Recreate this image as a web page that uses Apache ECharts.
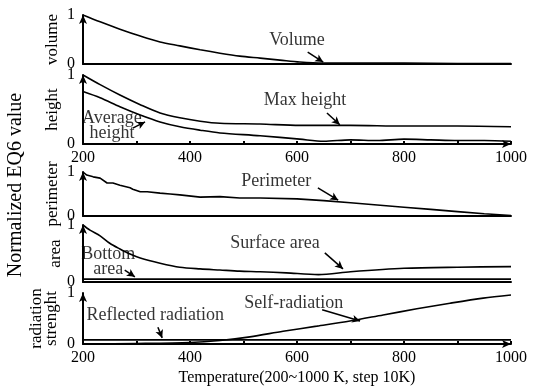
<!DOCTYPE html>
<html>
<head>
<meta charset="utf-8">
<script src="https://cdn.jsdelivr.net/npm/echarts@6/dist/echarts.min.js"></script>
<style>
html,body{margin:0;padding:0;background:#fff;}
#chart{width:533px;height:389px;}
</style>
</head>
<body>
<div id="chart"></div>
<script>
// values, [temperature K, normalized value]
var volume = [[200,1],[232,0.86],[269,0.71],[307,0.57],[344,0.45],[381,0.37],[419,0.29],[456,0.22],[493,0.16],[531,0.12],[568,0.08],[605,0.04],[650,0.02],[700,0.02],[800,0.02],[900,0.01],[1000,0.01]];
var maxHeight = [[200,1],[232,0.86],[269,0.71],[307,0.57],[344,0.45],[381,0.38],[419,0.33],[456,0.30],[531,0.29],[605,0.27],[700,0.27],[800,0.26],[900,0.26],[1000,0.25]];
var avgHeight = [[200,0.76],[232,0.67],[269,0.54],[307,0.42],[344,0.32],[381,0.25],[419,0.2],[456,0.16],[531,0.12],[605,0.07],[650,0.04],[700,0.06],[750,0.05],[800,0.07],[850,0.06],[900,0.05],[950,0.05],[1000,0.04]];
var perimeter = [[200,1],[207,0.93],[219,0.89],[232,0.86],[245,0.75],[256,0.75],[269,0.70],[288,0.64],[293,0.61],[307,0.55],[320,0.55],[344,0.52],[363,0.50],[381,0.48],[419,0.43],[456,0.44],[493,0.41],[531,0.41],[600,0.39],[650,0.35],[700,0.30],[750,0.25],[800,0.2],[850,0.15],[900,0.1],[950,0.05],[1000,0.01]];
var surfaceArea = [[200,1],[213,0.91],[232,0.81],[250,0.68],[269,0.58],[288,0.49],[307,0.42],[344,0.33],[381,0.26],[419,0.23],[456,0.21],[493,0.19],[531,0.18],[580,0.16],[640,0.13],[700,0.18],[800,0.24],[900,0.26],[1000,0.27]];
var bottomArea = [[200,0.05],[1000,0.05]];
var selfRadiation = [[200,0],[300,0.01],[400,0.03],[456,0.07],[512,0.14],[574,0.25],[637,0.35],[699,0.45],[761,0.57],[824,0.69],[886,0.8],[948,0.9],[1000,0.96]];
var reflectedRadiation = [[200,0.08],[1000,0.08]];

var axisNames = ['volume','height','perimeter','area','radiation\nstrenght'];
var xTicks = [200,400,600,800,1000];

// label text, label anchor and arrow (from -> to), in data units of each panel
var notes = [
  {panel:0, text:'Volume', at:[600,0.48], from:[620,0.24], to:[649,0.04]},
  {panel:1, text:'Max height', at:[615,0.64], from:[656,0.45], to:[680,0.28]},
  {panel:1, text:'Average\nheight', at:[254,0.26], from:[293,0.23], to:[316,0.32]},
  {panel:2, text:'Perimeter', at:[561,0.8], from:[639,0.64], to:[677,0.36]},
  {panel:3, text:'Surface area', at:[559,0.68], from:[652,0.51], to:[686,0.23]},
  {panel:3, text:'Bottom\narea', at:[247,0.35], from:[278,0.21], to:[297,0.09]},
  {panel:4, text:'Self-radiation', at:[594,0.8], from:[647,0.67], to:[718,0.45]},
  {panel:4, text:'Reflected radiation', at:[335,0.57], from:[340,0.33], to:[348,0.12]}
];

var font = 'Liberation Serif';
var panels = [
  {top:15, height:49, gap:23},
  {top:75, height:69, gap:23},
  {top:172, height:44, gap:23},
  {top:225, height:57, gap:20},
  {top:293, height:51, gap:24}
];
var labelled = [false,true,false,false,true];

var grids = [], xAxes = [], yAxes = [];
panels.forEach(function(p, i){
  grids.push({left:83, right:22, top:p.top, height:p.height});
  xAxes.push({
    type:'value', gridIndex:i, min:200, max:1000, interval:100,
    axisLine:{show:true, symbol: labelled[i] ? ['none','arrow'] : 'none', symbolSize:[6,9],
      lineStyle:{color:'#000', width:2}},
    axisTick:{show:labelled[i], inside:true, length:3, lineStyle:{color:'#000', width:2}},
    axisLabel:{show:labelled[i], color:'#000', fontFamily:font, fontSize:16, margin:6,
      formatter:function(v){ return xTicks.indexOf(v) >= 0 ? String(v) : ''; }},
    splitLine:{show:false},
    name: i === 4 ? 'Temperature(200~1000 K, step 10K)' : '',
    nameLocation:'middle', nameGap:26, nameMoveOverlap:false,
    nameTextStyle:{color:'#000', fontFamily:font, fontSize:16}
  });
  yAxes.push({
    type:'value', gridIndex:i, min:0, max:1, interval:1,
    axisLine:{show:true, symbol:['none','arrow'], symbolSize:[6,9], lineStyle:{color:'#000', width:2}},
    axisTick:{show:false},
    axisLabel:{color:'#000', fontFamily:font, fontSize:16, margin:8},
    splitLine:{show:false},
    name:axisNames[i], nameLocation:'middle', nameGap:p.gap, nameRotate:90, nameMoveOverlap:false,
    nameTextStyle:{color:'#000', fontFamily:font, fontSize:17, lineHeight:15}
  });
});

function curve(data, i, smooth){
  return {
    type:'line', xAxisIndex:i, yAxisIndex:i, data:data, showSymbol:false,
    smooth:smooth, lineStyle:{color:'#000', width:1.6}, silent:true
  };
}

var series = [
  curve(volume, 0, 0.3),
  curve(maxHeight, 1, 0.3),
  curve(avgHeight, 1, 0.3),
  curve(perimeter, 2, false),
  curve(surfaceArea, 3, 0.3),
  curve(bottomArea, 3, false),
  curve(selfRadiation, 4, 0.3),
  curve(reflectedRadiation, 4, false)
];

panels.forEach(function(p, i){
  var mine = notes.filter(function(n){ return n.panel === i; });
  series.push({
    type:'scatter', xAxisIndex:i, yAxisIndex:i, symbolSize:0, silent:true,
    data: mine.map(function(n){ return {value:n.at, name:n.text}; }),
    label:{show:true, position:'inside', formatter:'{b}', color:'#000',
      fontFamily:font, fontSize:18, lineHeight:15, align:'center'},
    markLine:{
      silent:true, symbol:['none','arrow'], symbolSize:[6,8],
      lineStyle:{color:'#000', width:1.5, type:'solid'},
      label:{show:false},
      data: mine.map(function(n){ return [{coord:n.from},{coord:n.to}]; })
    }
  });
});

var chart = echarts.init(document.getElementById('chart'));
chart.setOption({
  animation:false,
  backgroundColor:'#fff',
  grid:grids, xAxis:xAxes, yAxis:yAxes, series:series,
  graphic:[{
    type:'text', rotation:Math.PI/2,
    x:16, y:185,
    style:{text:'Normalized EQ6 value', fill:'#000', font:'20px "Liberation Serif"',
      align:'center', verticalAlign:'middle'}
  }]
});
</script>
</body>
</html>
